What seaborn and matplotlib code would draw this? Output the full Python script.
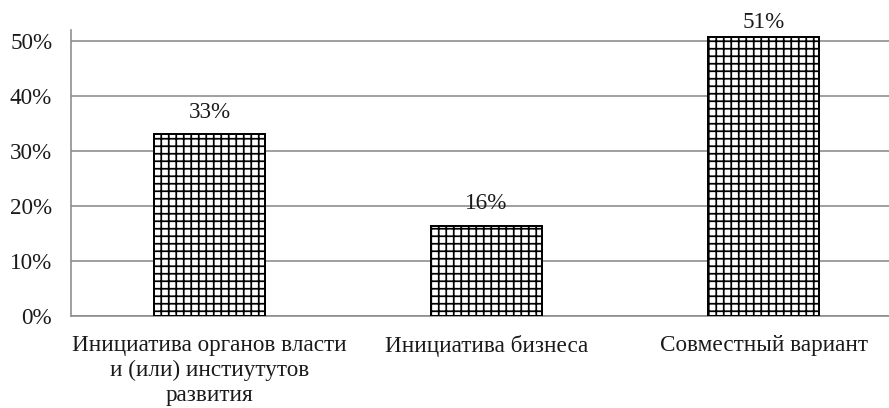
import matplotlib
matplotlib.use("Agg")
import matplotlib.pyplot as plt
import seaborn as sns

# --- DATA ---
categories = ["Инициатива органов власти\nи (или) инстиутутов\nразвития",
              "Инициатива бизнеса",
              "Совместный вариант"]
values = [33.0, 16.4, 50.6]
value_labels = ["33%", "16%", "51%"]
yticks = [0, 10, 20, 30, 40, 50]

# --- STYLE ---
sns.set_style("white")
plt.rcParams['font.family'] = ['Liberation Serif', 'DejaVu Serif']
plt.rcParams['hatch.linewidth'] = 1.4
plt.rcParams['hatch.color'] = 'black'
GRID = '#8c8c8c'
TXT = '#1a1a1a'
FS = 18.5

DPI = 90
fig = plt.figure(figsize=(889 / DPI, 408 / DPI), dpi=DPI)
ax = fig.add_axes([71 / 889, 92 / 408, 818 / 889, 286.5 / 408])

sns.barplot(x=categories, y=values, color='white', edgecolor='black',
            linewidth=1.6, hatch='++', width=0.4, ax=ax, zorder=3)

# value labels (last one squeezed against the top of the plot area)
offsets = [9, 9, 3]
for i, (v, lab) in enumerate(zip(values, value_labels)):
    ax.annotate(lab, (i, v), xytext=(0, offsets[i]), textcoords='offset points',
                ha='center', va='bottom', fontsize=FS, color=TXT, zorder=4)

ax.set_ylim(0, 52)
ax.set_xlim(-0.5, 2.453)
ax.set_yticks(yticks)
ax.set_yticklabels([f"{t}%" for t in yticks], fontsize=FS, color=TXT)
ax.yaxis.grid(True, color=GRID, linewidth=1.3, zorder=0)
ax.set_axisbelow(True)

# category labels, ticks between categories
ax.set_xticks(range(len(categories)))
ax.set_xticklabels(categories, fontsize=FS, color=TXT, linespacing=1.25, va='top')
ax.tick_params(axis='x', which='major', length=0, pad=15)
ax.set_xticks([0.5, 1.5], minor=True)
ax.tick_params(axis='x', which='minor', length=6, width=1.3, color=GRID, direction='out')
ax.tick_params(axis='y', length=6, width=1.3, color=GRID, direction='out', pad=9)

for s in ['top', 'right']:
    ax.spines[s].set_visible(False)
for s in ['left', 'bottom']:
    ax.spines[s].set_color(GRID)
    ax.spines[s].set_linewidth(1.3)
ax.set_xlabel('')
ax.set_ylabel('')

fig.savefig('out.png', dpi=DPI)
